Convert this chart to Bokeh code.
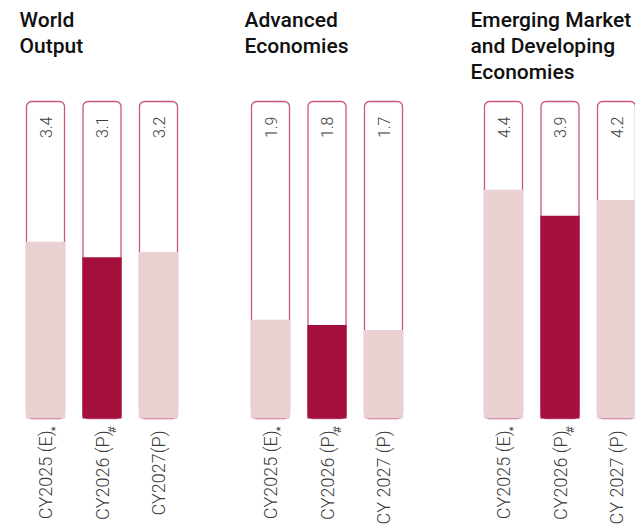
import math
from bokeh.plotting import figure
from bokeh.models import Range1d, ColumnDataSource
from bokeh.core.properties import value
from bokeh.embed import file_html
from bokeh.resources import INLINE

# ---------------- data ----------------
title_lines = [["World", "Output"],
               ["Advanced", "Economies"],
               ["Emerging Market", "and Developing", "Economies"]]
year_labels = [["CY2025 (E)", "CY2026 (P)", "CY2027(P)"],
               ["CY2025 (E)", "CY2026 (P)", "CY 2027 (P)"],
               ["CY2025 (E)", "CY2026 (P)", "CY 2027 (P)"]]
year_marks = ["*", "#", ""]
world_output = [3.4, 3.1, 3.2]
advanced_economies = [1.9, 1.8, 1.7]
emerging_developing = [4.4, 3.9, 4.2]
series = [world_output, advanced_economies, emerging_developing]
highlight = [False, True, False]

# ---------------- layout ----------------
W, H = 635, 527
PX_PER_UNIT = 52.0
BASE_Y = 418.0          # page y of the zero line
BOX_TOP_Y = 101.0       # page y of the top of the outline boxes
def vy(page_y):
    return (BASE_Y - page_y) / PX_PER_UNIT

first_bar_x = [45.0, 270.0, 503.0]
bar_step = 56.5
title_x = [19.0, 244.0, 470.0]
title_anchor_y = [19.0, 45.0, 71.0]
BAR_W = 38.0

LIGHT = "#e9d0d1"
DARK = "#a3103b"
OUTLINE = "#c9557d"
TEXT_GRAY = "#3c3c3c"

xs, vals, fills, labels, marks, vtxt = [], [], [], [], [], []
for i, vlist in enumerate(series):
    for j, v in enumerate(vlist):
        xs.append(first_bar_x[i] + j * bar_step)
        vals.append(v)
        fills.append(DARK if highlight[j] else LIGHT)
        labels.append(year_labels[i][j])
        marks.append(year_marks[j])
        vtxt.append(f"{v:.1f}")

src = ColumnDataSource(dict(x=xs, v=vals, fill=fills, label=labels, mark=marks, vtxt=vtxt,
                            top=[vy(BOX_TOP_Y)] * len(xs), zero=[0.0] * len(xs)))

p = figure(width=W, height=H, x_range=Range1d(0, W), y_range=Range1d(vy(H), vy(0)),
           x_axis_location=None, y_axis_location=None, toolbar_location=None,
           output_backend="svg", min_border=0)
p.grid.visible = False
p.outline_line_color = None
p.background_fill_color = "white"
p.border_fill_color = "white"

# outline boxes
p.vbar(x="x", top="top", bottom="zero", width=BAR_W, source=src, fill_color="white",
       line_color=OUTLINE, line_width=1.3, border_radius=5)
# value bars
p.vbar(x="x", top="v", bottom="zero", width=BAR_W + 1.2, source=src, fill_color="fill",
       line_color=None)

# value labels at the top of each box
p.text(x="x", y="top", text="vtxt", source=src, angle=math.pi / 2, text_align="right",
       text_baseline="middle", y_offset=15, text_font=value("Roboto Light"),
       text_font_size="16px", text_color=TEXT_GRAY)

# category labels
p.text(x="x", y="zero", text="label", source=src, angle=math.pi / 2, text_align="right",
       text_baseline="middle", y_offset=12, text_font=value("Roboto Light"),
       text_font_size="18px", text_color=TEXT_GRAY)
p.text(x="x", y="zero", text="mark", source=src, angle=math.pi / 2, text_align="right",
       text_baseline="middle", y_offset=8, x_offset=10, text_font=value("Roboto"),
       text_font_size="11px", text_color=TEXT_GRAY)

# panel titles
tx, ty, tt = [], [], []
for i, lines in enumerate(title_lines):
    for k, line in enumerate(lines):
        tx.append(title_x[i])
        ty.append(vy(title_anchor_y[k]))
        tt.append(line)
p.text(x=tx, y=ty, text=tt, text_font=value("Roboto Medium"),
       text_font_size="21px", text_color="#111111", text_baseline="alphabetic",
       text_align="left")

open("out.html", "w").write(file_html(p, INLINE))
